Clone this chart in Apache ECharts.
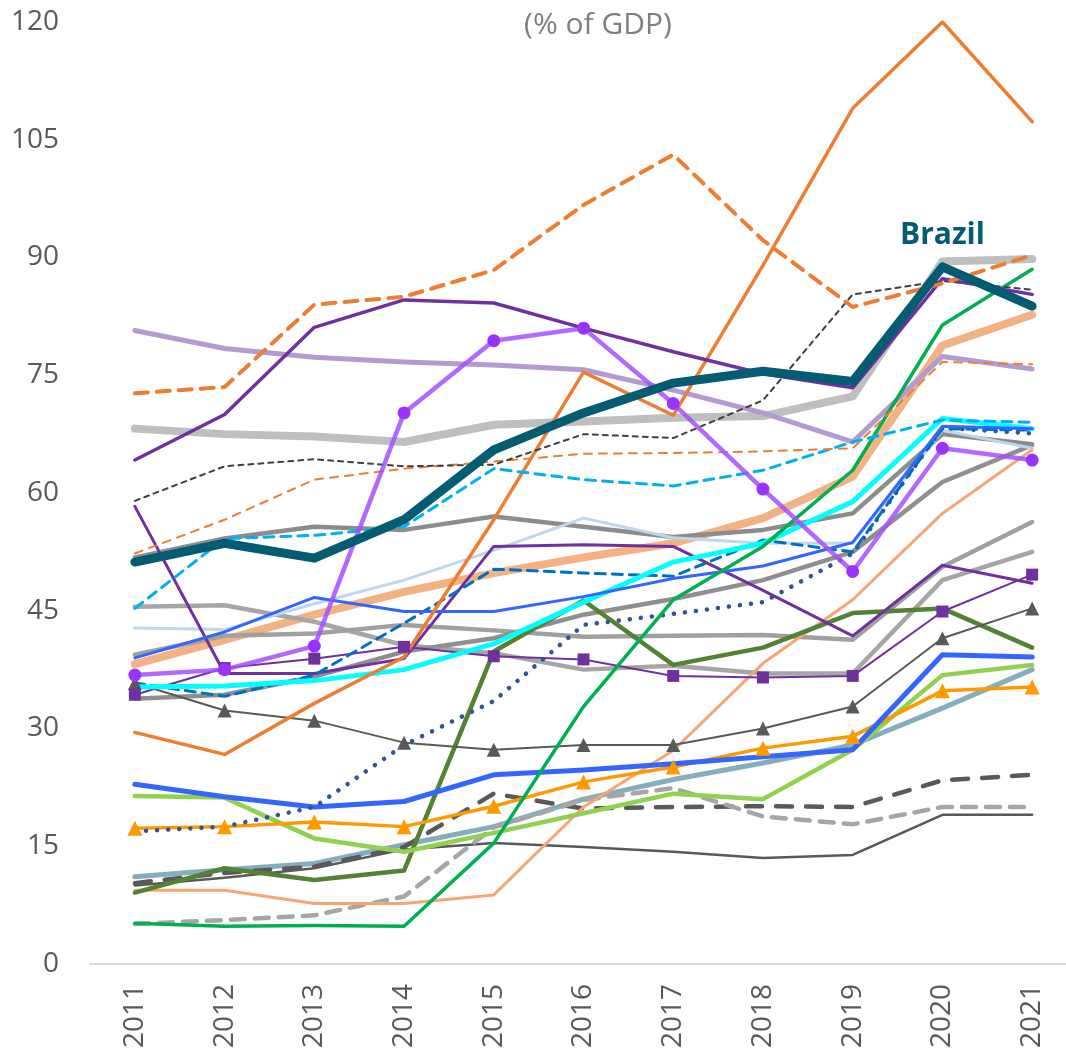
<!DOCTYPE html>
<html>
<head>
<meta charset="utf-8">
<script src="https://cdn.jsdelivr.net/npm/echarts@6/dist/echarts.min.js"></script>
<style>
  html, body { margin: 0; padding: 0; background: #fff; }
  #chart { width: 1066px; height: 1050px; }
</style>
</head>
<body>
<div id="chart"></div>
<script>
// categories and y-axis ticks
var years = ['2011', '2012', '2013', '2014', '2015', '2016', '2017', '2018', '2019', '2020', '2021'];
var yTicks = [0, 15, 30, 45, 60, 75, 90, 105, 120];

// series values (% of GDP)
var brazil      = [51.2, 53.6, 51.7, 56.6, 65.5, 70.2, 74.0, 75.5, 74.2, 88.8, 83.8];
var greyTop     = [68.2, 67.5, 67.2, 66.5, 68.7, 69.1, 69.6, 69.8, 72.3, 89.5, 89.8];
var orangeDashA = [72.7, 73.5, 84.0, 85.0, 88.4, 96.7, 103.1, 92.2, 83.7, 86.7, 90.3];
var purpleA     = [64.2, 70.0, 81.1, 84.6, 84.2, 81.0, 78.0, 75.2, 73.4, 87.3, 85.3];
var lavender    = [80.7, 78.4, 77.3, 76.7, 76.3, 75.7, 73.1, 70.2, 66.5, 77.4, 75.8];
var darkDashThin= [59.0, 63.4, 64.3, 63.4, 63.6, 67.5, 67.0, 71.8, 85.3, 87.0, 85.9];
var orangeDashB = [52.3, 56.6, 61.7, 63.1, 64.0, 65.0, 65.1, 65.3, 65.7, 76.7, 76.4];
var skyDash     = [45.3, 54.2, 54.6, 55.7, 63.1, 61.7, 60.9, 62.9, 66.5, 69.3, 69.0];
var orangeSolid = [29.5, 26.7, 33.2, 39.1, 56.6, 75.4, 69.9, 89.0, 109.0, 120.0, 107.3];
var violetDots  = [36.8, 37.5, 40.5, 70.2, 79.4, 81.0, 71.4, 60.5, 50.0, 65.7, 64.2];
var peach       = [38.2, 41.3, 44.5, 47.4, 49.8, 51.8, 53.6, 56.8, 62.1, 78.8, 82.7];
var green       = [5.2, 4.8, 4.9, 4.8, 15.4, 32.8, 46.4, 53.2, 62.9, 81.4, 88.5];
var greyMid     = [51.8, 54.2, 55.7, 55.3, 57.0, 55.7, 54.4, 55.3, 57.4, 67.5, 66.2];
var paleBlue    = [42.8, 42.6, 45.9, 48.9, 52.7, 56.8, 54.3, 53.6, 53.6, 68.0, 65.7];
var blueA       = [39.0, 42.3, 46.7, 44.9, 44.9, 46.8, 49.1, 50.7, 53.7, 68.5, 68.2];
var cyan        = [35.3, 35.4, 36.1, 37.5, 40.8, 46.1, 51.2, 53.6, 58.9, 69.5, 68.2];
var blueDash    = [35.8, 34.1, 36.8, 43.4, 50.3, 49.8, 49.4, 54.0, 52.5, 68.2, 68.0];
var navyDots    = [16.9, 17.5, 20.0, 27.9, 33.5, 43.2, 44.6, 46.1, 52.3, 68.3, 67.6];
var purpleSq    = [34.3, 37.7, 38.9, 40.4, 39.2, 38.8, 36.7, 36.5, 36.7, 44.9, 49.6];
var purpleB     = [58.3, 37.0, 37.0, 38.9, 53.2, 53.4, 53.2, 47.6, 41.8, 50.8, 48.5];
var greyA       = [45.5, 45.7, 43.6, 40.6, 39.6, 37.5, 38.0, 37.0, 37.0, 48.9, 52.5];
var greyB       = [39.4, 41.8, 42.1, 43.2, 42.5, 41.7, 41.8, 41.9, 41.3, 50.6, 56.3];
var greyC       = [33.8, 34.3, 36.6, 39.8, 41.5, 44.5, 46.5, 48.9, 52.5, 61.4, 66.1];
var greyTri     = [35.8, 32.3, 31.0, 28.2, 27.3, 27.9, 27.9, 30.0, 32.8, 41.5, 45.3];
var blueB       = [22.9, 21.3, 20.0, 20.7, 24.1, 24.7, 25.5, 26.4, 27.3, 39.4, 39.1];
var orangeTri   = [17.3, 17.5, 18.1, 17.5, 20.1, 23.2, 25.1, 27.5, 29.0, 34.8, 35.3];
var lime        = [21.4, 21.2, 16.0, 14.3, 16.7, 19.2, 21.7, 21.0, 27.3, 36.8, 38.1];
var steel       = [11.1, 12.0, 12.8, 15.2, 17.5, 21.0, 23.5, 25.6, 27.9, 32.6, 37.5];
var darkLongDash= [10.3, 11.6, 12.4, 14.9, 21.7, 19.8, 20.0, 20.1, 20.0, 23.4, 24.1];
var darkGreen   = [9.1, 12.2, 10.7, 11.9, 39.8, 46.3, 38.1, 40.3, 44.7, 45.3, 40.3];
var salmon      = [9.4, 9.4, 7.7, 7.7, 8.8, 20.0, 27.2, 38.3, 46.4, 57.4, 65.5];
var greyDash    = [5.1, 5.6, 6.2, 8.6, 17.4, 20.9, 22.4, 18.8, 17.8, 20.0, 20.0];
var darkThin    = [10.0, 11.0, 12.2, 14.6, 15.4, 14.9, 14.3, 13.5, 13.9, 19.0, 19.0];

function line(name, data, color, width, type, extra) {
  var s = {
    name: name,
    type: 'line',
    data: data,
    symbol: 'none',
    silent: true,
    lineStyle: { color: color, width: width, type: type || 'solid', cap: 'round', join: 'round' },
    itemStyle: { color: color }
  };
  if (extra) {
    for (var k in extra) s[k] = extra[k];
  }
  return s;
}

var font = '"Open Sans", "Liberation Sans", sans-serif';
var chartDom = document.getElementById('chart');
var myChart = echarts.init(chartDom);
var option;

option = {
  animation: false,
  backgroundColor: '#fff',
  graphic: [{
    type: 'text',
    x: 598,
    y: 25,
    style: {
      text: '(% of GDP)',
      fill: '#7F7F7F',
      font: '30px ' + font,
      textAlign: 'center',
      textVerticalAlign: 'middle'
    }
  }],
  grid: {
    left: 90,
    top: 22,
    width: 987,
    height: 942,
    containLabel: false,
    outerBoundsMode: 'none'
  },
  xAxis: {
    type: 'category',
    data: years,
    boundaryGap: true,
    axisLine: { lineStyle: { color: '#D9D9D9', width: 2 } },
    axisTick: { show: false },
    axisLabel: {
      rotate: 90,
      margin: 20,
      fontSize: 28,
      color: '#595959',
      fontFamily: font
    },
    splitLine: { show: false }
  },
  yAxis: {
    type: 'value',
    min: yTicks[0],
    max: yTicks[yTicks.length - 1],
    interval: 15,
    axisLine: { show: false },
    axisTick: { show: false },
    splitLine: { show: false },
    axisLabel: {
      margin: 31,
      fontSize: 28,
      color: '#595959',
      fontFamily: font
    }
  },
  series: [
    line('greyTop', greyTop, '#BFBFBF', 8),
    line('peach', peach, '#F4B183', 8),
    line('lavender', lavender, '#B39BD1', 5),
    line('steel', steel, '#84AEBD', 5),
    line('greyMid', greyMid, '#8C8C8C', 4.5),
    line('greyA', greyA, '#A6A6A6', 4.5),
    line('greyB', greyB, '#A0A0A0', 4.5),
    line('greyC', greyC, '#8F8F8F', 4.5),
    line('paleBlue', paleBlue, '#BDD7EE', 3),
    line('darkThin', darkThin, '#595959', 2.5),
    line('darkLongDash', darkLongDash, '#595959', 4.5, [16, 14]),
    line('greyDash', greyDash, '#A6A6A6', 4.5, [14, 10]),
    line('salmon', salmon, '#F4A676', 3),
    line('darkGreen', darkGreen, '#548235', 4.5),
    line('lime', lime, '#92D050', 4.5),
    line('orangeTri', orangeTri, '#FF9900', 3.5, 'solid', { symbol: 'triangle', symbolSize: 15 }),
    line('blueB', blueB, '#3366FF', 5),
    line('greyTri', greyTri, '#595959', 2, 'solid', { symbol: 'triangle', symbolSize: 14 }),
    line('purpleSq', purpleSq, '#7030A0', 2, 'solid', { symbol: 'rect', symbolSize: 12 }),
    line('purpleB', purpleB, '#7030A0', 3),
    line('navyDots', navyDots, '#2F5597', 4.5, [0.1, 11]),
    line('blueDash', blueDash, '#0070C0', 3, [10, 7]),
    line('cyan', cyan, '#00FFFF', 5),
    line('blueA', blueA, '#3366FF', 3),
    line('green', green, '#00B050', 3.5),
    line('orangeSolid', orangeSolid, '#ED7D31', 3.5),
    line('skyDash', skyDash, '#00B0F0', 3, [10, 7]),
    line('orangeDashB', orangeDashB, '#ED7D31', 2, [8, 7]),
    line('darkDashThin', darkDashThin, '#404040', 2, [5, 5]),
    line('violetDots', violetDots, 'rgba(166,77,255,0.85)', 4.5, 'solid', {
      symbol: 'circle', symbolSize: 13, itemStyle: { color: '#9933FF' }
    }),
    line('purpleA', purpleA, '#7030A0', 3.5),
    line('orangeDashA', orangeDashA, '#ED7D31', 4, [13, 9]),
    line('Brazil', brazil, '#035C72', 9, 'solid', {
      markPoint: {
        symbol: 'circle',
        symbolSize: 1,
        itemStyle: { color: 'rgba(0,0,0,0)' },
        silent: true,
        data: [{
          coord: [years[9], brazil[9]],
          label: {
            show: true,
            formatter: 'Brazil',
            position: 'top',
            distance: 16,
            color: '#035C72',
            fontSize: 30,
            fontWeight: 'bold',
            fontFamily: font
          }
        }]
      }
    })
  ]
};

option && myChart.setOption(option);
</script>
</body>
</html>
